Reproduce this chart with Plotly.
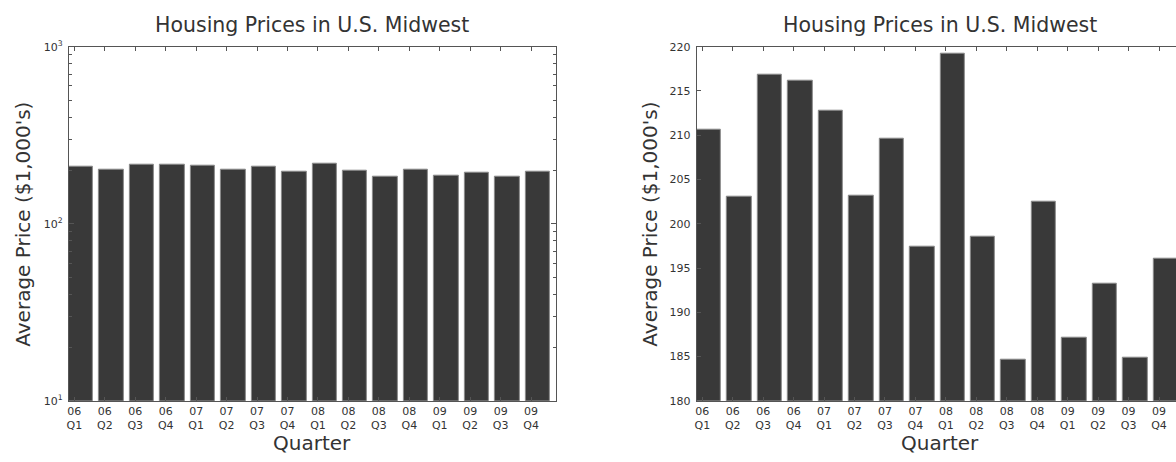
import plotly.graph_objects as go
from plotly.subplots import make_subplots

quarters = ["06<br>Q1", "06<br>Q2", "06<br>Q3", "06<br>Q4",
            "07<br>Q1", "07<br>Q2", "07<br>Q3", "07<br>Q4",
            "08<br>Q1", "08<br>Q2", "08<br>Q3", "08<br>Q4",
            "09<br>Q1", "09<br>Q2", "09<br>Q3", "09<br>Q4"]
prices = [210.6, 203.1, 216.8, 216.2, 212.8, 203.2, 209.6, 197.4,
          219.2, 198.5, 184.6, 202.5, 187.1, 193.2, 184.9, 196.0]
title_text = "Housing Prices in U.S. Midwest"
y_label = "Average Price ($1,000's)"
x_label = "Quarter"
log_ticks = [10, 100, 1000]
log_ticktext = ["10<sup>1</sup>", "10<sup>2</sup>", "10<sup>3</sup>"]
log_minor = [20, 30, 40, 50, 60, 70, 80, 90, 200, 300, 400, 500, 600, 700, 800, 900]
lin_ticks = [180, 185, 190, 195, 200, 205, 210, 215, 220]

W, H = 1176, 462
FONT = "DejaVu Sans"
TXT = "#333333"
BAR = "#393939"
EDGE = "#8a8a8a"
AX = "#555555"

n = len(prices)
xs = [i + 0.4 for i in range(n)]
tickpos = [i + 0.18 for i in range(n)]

# plot box geometry (pixels)
L1, R1 = 67, 555
L2 = 696
pitch = (R1 - L1) / n
R2vis = W
top, bot = 40, 406

fig = make_subplots(rows=1, cols=2)

for c in (1, 2):
    fig.add_trace(go.Bar(x=xs, y=prices, width=0.8,
                         marker=dict(color=BAR, line=dict(color=EDGE, width=1)),
                         showlegend=False, hoverinfo="skip"), row=1, col=c)

common_x = dict(tickmode="array", tickvals=tickpos, ticktext=quarters,
                ticks="inside", ticklen=4, tickcolor=AX, tickwidth=1,
                showline=True, linecolor=AX, linewidth=1,
                showgrid=False, zeroline=False, ticklabelstandoff=0,
                tickfont=dict(family=FONT, size=11, color=TXT),
                mirror="allticks")

fig.update_layout(
    xaxis=dict(domain=[L1 / W, R1 / W], range=[0, n], **common_x),
    xaxis2=dict(domain=[L2 / W, 1.0], range=[0, n * (R2vis - L2) / (n * pitch)], **common_x),
    yaxis=dict(domain=[1 - bot / H, 1 - top / H], type="log", range=[1, 3],
               tickmode="array", tickvals=log_ticks, ticktext=log_ticktext,
               ticks="inside", ticklen=5, tickcolor=AX, tickwidth=1,
               minor=dict(tickmode="array", tickvals=log_minor, ticks="inside",
                          ticklen=3, tickcolor=AX, showgrid=False),
               showline=True, linecolor=AX, linewidth=1, mirror="allticks",
               showgrid=False, zeroline=False, ticklabelstandoff=3,
               tickfont=dict(family=FONT, size=11, color=TXT)),
    yaxis2=dict(domain=[1 - bot / H, 1 - top / H], range=[180, 220],
                tickmode="array", tickvals=lin_ticks,
                ticks="inside", ticklen=4, tickcolor=AX, tickwidth=1,
                showline=True, linecolor=AX, linewidth=1, mirror=False,
                showgrid=False, zeroline=False, ticklabelstandoff=3,
                tickfont=dict(family=FONT, size=11, color=TXT)),
    width=W, height=H,
    margin=dict(l=0, r=0, t=0, b=0),
    plot_bgcolor="white", paper_bgcolor="white",
    bargap=0,
    font=dict(family=FONT, color=TXT),
)

# titles and axis labels
ann = []
for cx, ylx in (((L1 + R1) / 2, 21), ((L2 + L2 + n * pitch) / 2, 649)):
    ann.append(dict(text=title_text, x=cx / W, y=1 - 18 / H, xref="paper", yref="paper",
                    showarrow=False, xanchor="center", yanchor="middle",
                    font=dict(family=FONT, size=20.5, color=TXT)))
    ann.append(dict(text=x_label, x=cx / W, y=1 - 450 / H, xref="paper", yref="paper",
                    showarrow=False, xanchor="center", yanchor="middle", borderpad=0,
                    font=dict(family=FONT, size=20, color=TXT)))
    ann.append(dict(text=y_label, x=ylx / W, y=1 - ((top + bot) / 2) / H, xref="paper", yref="paper",
                    showarrow=False, xanchor="center", yanchor="middle", textangle=-90,
                    font=dict(family=FONT, size=20, color=TXT)))
fig.update_layout(annotations=ann)

fig.write_html("out.html", config={"displayModeBar": False},
               post_script="document.body.style.margin='0';document.body.style.overflow='hidden';")
